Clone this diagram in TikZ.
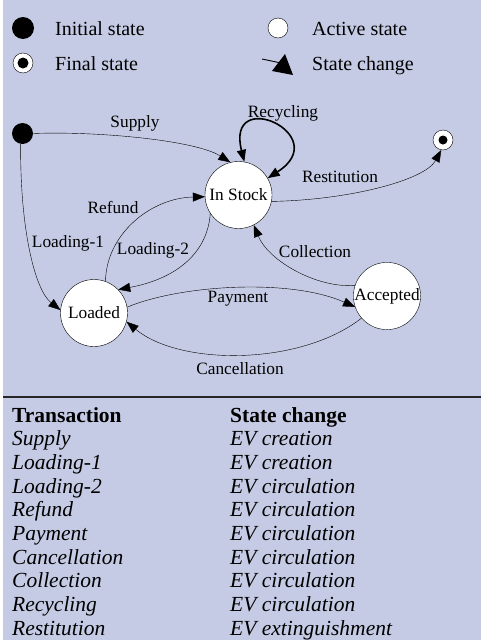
\documentclass[tikz,border=0pt]{standalone}
\usepackage{fontspec}
\setmainfont{Liberation Serif}
\usetikzlibrary{arrows.meta}
\definecolor{panelblue}{RGB}{197,203,228}
\newcommand{\lblfont}{\fontsize{17.3}{20}\selectfont}
\newcommand{\keyfont}{\fontsize{20}{24}\selectfont}
\newcommand{\tabfont}{\fontsize{21.5}{24}\selectfont}

\begin{document}
\begin{tikzpicture}[x=1pt,y=-1pt]
\tikzstyle{state}=[circle, draw, fill=white, minimum size=67pt, inner sep=0pt, font=\lblfont]
\tikzstyle{dot}=[circle, fill=black, inner sep=0pt]
\tikzstyle{ring}=[circle, draw, fill=white, inner sep=0pt]
\tikzstyle{trans}=[-{Triangle[length=12pt,width=9pt]}]
\tikzstyle{tlabel}=[font=\lblfont, inner sep=0pt]
\tikzstyle{keytext}=[anchor=base west, font=\keyfont, inner sep=0pt]
\tikzstyle{head}=[anchor=base west, font=\tabfont\bfseries, inner sep=0pt]
\tikzstyle{cell}=[anchor=base west, font=\tabfont\itshape, inner sep=0pt]

\useasboundingbox (0,0) rectangle (481,640);
\fill[panelblue] (3,0) rectangle (481,640);
\draw[line width=1.5pt, black!85] (3,397) -- (481,397);

% legend
\node[dot, minimum size=22pt] (kInit) at (23,28) {};
\node[keytext] (kInitTxt) at (55,35) {Initial state};
\node[ring, minimum size=20pt] (kActive) at (278,28) {};
\node[keytext] (kActiveTxt) at (312,35) {Active state};
\node[ring, minimum size=20pt] (kFinal) at (23,63) {};
\node[dot, minimum size=11pt] (kFinalDot) at (kFinal) {};
\node[keytext] (kFinalTxt) at (55,70) {Final state};
\coordinate (kFrom) at (262,59);
\coordinate (kTo) at (281,63);
\draw[line width=0.9pt] (kFrom) -- (kTo);
\fill (285,54) -- (293,75) -- (272,71) -- cycle;
\node[keytext] (kChangeTxt) at (312,70) {State change};

% states
\node[dot, minimum size=21pt] (init) at (22.5,133.5) {};
\node[ring, minimum size=20pt] (final) at (443,140) {};
\node[dot, minimum size=9pt] (finalDot) at (final) {};
\node[state] (stock) at (238.5,195) {In Stock};
\node[state] (loaded) at (94,313) {Loaded};
\node[state] (accepted) at (387,296) {Accepted};

% transitions
\draw[trans] (init.east) .. controls (95,131) and (195,140) .. (stock.104);
\draw[line width=1.6pt, {Triangle[length=12pt,width=9pt]}-{Triangle[length=12pt,width=9pt]}] (stock.30) .. controls (335,135) and (225,85) .. (stock.80);
\draw[trans] (stock.-11) .. controls (350,200) and (425,180) .. (final.-100);
\draw[trans] (loaded.70) .. controls (106,235) and (150,198) .. (stock.183);
\draw[trans] (stock.213) .. controls (208,250) and (180,278) .. (loaded.44);
\draw[trans] (init.-100) .. controls (20,230) and (35,290) .. (loaded.175);
\draw[trans] (accepted.162) .. controls (315,288) and (268,260) .. (stock.-63);
\draw[trans] (loaded.10) .. controls (180,285) and (290,278) .. (accepted.199);
\draw[trans] (accepted.221) .. controls (300,366) and (180,366) .. (loaded.-15);

\node[tlabel] (supplyLbl) at (135,123) {Supply};
\node[tlabel] (recyclingLbl) at (283,113) {Recycling};
\node[tlabel] (restitutionLbl) at (340,177) {Restitution};
\node[tlabel] (refundLbl) at (113,207) {Refund};
\node[tlabel] (loadingOneLbl) at (68,243) {Loading-1};
\node[tlabel] (loadingTwoLbl) at (153,250) {Loading-2};
\node[tlabel] (collectionLbl) at (315,252) {Collection};
\node[tlabel] (paymentLbl) at (238,299) {Payment};
\node[tlabel] (cancellationLbl) at (240,369) {Cancellation};

% table
\node[head] (tHead) at (12,422) {Transaction};
\node[head] (sHead) at (230,422) {State change};
\node[cell] (t1) at (12,445.7) {Supply};
\node[cell] (s1) at (230,445.7) {EV creation};
\node[cell] (t2) at (12,469.4) {Loading-1};
\node[cell] (s2) at (230,469.4) {EV creation};
\node[cell] (t3) at (12,493.1) {Loading-2};
\node[cell] (s3) at (230,493.1) {EV circulation};
\node[cell] (t4) at (12,516.8) {Refund};
\node[cell] (s4) at (230,516.8) {EV circulation};
\node[cell] (t5) at (12,540.5) {Payment};
\node[cell] (s5) at (230,540.5) {EV circulation};
\node[cell] (t6) at (12,564.2) {Cancellation};
\node[cell] (s6) at (230,564.2) {EV circulation};
\node[cell] (t7) at (12,587.9) {Collection};
\node[cell] (s7) at (230,587.9) {EV circulation};
\node[cell] (t8) at (12,611.6) {Recycling};
\node[cell] (s8) at (230,611.6) {EV circulation};
\node[cell] (t9) at (12,635.3) {Restitution};
\node[cell] (s9) at (230,635.3) {EV extinguishment};

\end{tikzpicture}
\end{document}
